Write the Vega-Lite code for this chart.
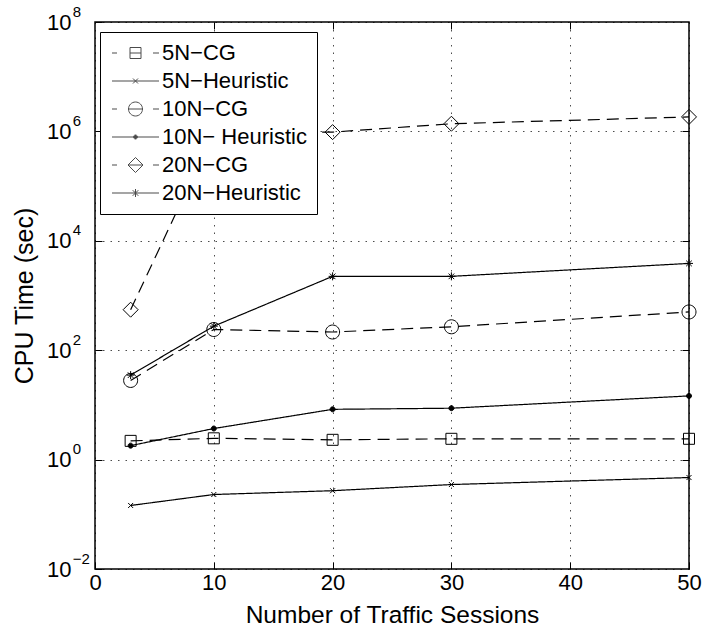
{
  "$schema": "https://vega.github.io/schema/vega-lite/v6.json",
  "autosize": {"type": "none"},
  "padding": {"left": 95, "top": 22, "right": 18, "bottom": 65},
  "width": 594,
  "height": 547,
  "background": "white",
  "config": {
    "font": "Liberation Sans",
    "view": {"stroke": "black", "strokeWidth": 1.5},
    "axis": {
      "labelFont": "Liberation Sans",
      "titleFont": "Liberation Sans",
      "labelColor": "black",
      "titleColor": "black",
      "tickColor": "black",
      "tickWidth": 1,
      "gridColor": "#000000",
      "gridDash": [1.5, 6],
      "gridOpacity": 0.7,
      "gridWidth": 1,
      "titleFontWeight": "normal",
      "labelFlush": false,
      "labelOverlap": false,
      "labelBound": false
    }
  },
  "data": {
    "values": [
      {"series": "5N−CG", "sessions": 3, "cpu": 2.2},
      {"series": "5N−CG", "sessions": 10, "cpu": 2.45},
      {"series": "5N−CG", "sessions": 20, "cpu": 2.3},
      {"series": "5N−CG", "sessions": 30, "cpu": 2.4},
      {"series": "5N−CG", "sessions": 50, "cpu": 2.4},
      {"series": "5N−Heuristic", "sessions": 3, "cpu": 0.145},
      {"series": "5N−Heuristic", "sessions": 10, "cpu": 0.23},
      {"series": "5N−Heuristic", "sessions": 20, "cpu": 0.27},
      {"series": "5N−Heuristic", "sessions": 30, "cpu": 0.35},
      {"series": "5N−Heuristic", "sessions": 50, "cpu": 0.47},
      {"series": "10N−CG", "sessions": 3, "cpu": 28},
      {"series": "10N−CG", "sessions": 10, "cpu": 239},
      {"series": "10N−CG", "sessions": 20, "cpu": 215},
      {"series": "10N−CG", "sessions": 30, "cpu": 268},
      {"series": "10N−CG", "sessions": 50, "cpu": 500},
      {"series": "10N− Heuristic", "sessions": 3, "cpu": 1.8},
      {"series": "10N− Heuristic", "sessions": 10, "cpu": 3.7},
      {"series": "10N− Heuristic", "sessions": 20, "cpu": 8.3},
      {"series": "10N− Heuristic", "sessions": 30, "cpu": 8.7},
      {"series": "10N− Heuristic", "sessions": 50, "cpu": 14.6},
      {"series": "20N−CG", "sessions": 3, "cpu": 550},
      {"series": "20N−CG", "sessions": 10, "cpu": 950000},
      {"series": "20N−CG", "sessions": 20, "cpu": 970000},
      {"series": "20N−CG", "sessions": 30, "cpu": 1380000},
      {"series": "20N−CG", "sessions": 50, "cpu": 1840000},
      {"series": "20N−Heuristic", "sessions": 3, "cpu": 35},
      {"series": "20N−Heuristic", "sessions": 10, "cpu": 275},
      {"series": "20N−Heuristic", "sessions": 20, "cpu": 2240},
      {"series": "20N−Heuristic", "sessions": 30, "cpu": 2240},
      {"series": "20N−Heuristic", "sessions": 50, "cpu": 3860}
    ]
  },
  "layer": [
    {
      "mark": {"type": "line", "color": "black", "strokeWidth": 1.2},
      "encoding": {
        "x": {
          "field": "sessions", "type": "quantitative",
          "scale": {"domain": [0, 50], "nice": false, "zero": false},
          "axis": {
            "orient": "bottom", "values": [0, 10, 20, 30, 40, 50],
            "grid": true, "domain": false, "tickSize": -7,
            "labelPadding": 10.5, "labelFontSize": 22,
            "title": "Number of Traffic Sessions", "titleFontSize": 24.5, "titlePadding": 10
          }
        },
        "y": {
          "field": "cpu", "type": "quantitative",
          "scale": {"type": "log", "domain": [0.01, 100000000], "nice": false},
          "axis": {
            "orient": "left", "values": [0.01, 1, 100, 10000, 1000000, 100000000],
            "labelExpr": "'10'", "grid": true, "domain": false, "tickSize": -7,
            "labelPadding": 31, "labelFontSize": 22,
            "title": "CPU Time (sec)", "titleFontSize": 25, "titlePadding": 9
          }
        },
        "strokeDash": {
          "field": "series", "type": "nominal",
          "scale": {
            "domain": ["5N−CG", "5N−Heuristic", "10N−CG", "10N− Heuristic", "20N−CG", "20N−Heuristic"],
            "range": [[12, 7], [1, 0], [12, 7], [1, 0], [12, 7], [1, 0]]
          },
          "legend": null
        }
      }
    },
    {
      "mark": {"type": "point", "filled": true, "stroke": "black", "strokeWidth": 1, "size": 4, "opacity": 1},
      "encoding": {
        "x": {
          "field": "sessions", "type": "quantitative",
          "scale": {"domain": [0, 50], "nice": false, "zero": false},
          "axis": {
            "orient": "top", "values": [10, 20, 30, 40], "labels": false,
            "tickSize": -7, "domain": false, "grid": false, "title": null
          }
        },
        "y": {
          "field": "cpu", "type": "quantitative",
          "scale": {"type": "log", "domain": [0.01, 100000000], "nice": false},
          "axis": {
            "orient": "left", "values": [0.01, 1, 100, 10000, 1000000, 100000000],
            "ticks": false, "domain": false, "grid": false, "title": null,
            "labelExpr": "format(round(log(datum.value) / LN10), 'd')",
            "labelAlign": "left", "labelPadding": 22.7, "labelOffset": -11, "labelFontSize": 15
          }
        },
        "shape": {
          "field": "series", "type": "nominal",
          "scale": {
            "domain": ["5N−CG", "5N−Heuristic", "10N−CG", "10N− Heuristic", "20N−CG", "20N−Heuristic"],
            "range": [
              "M-5.5,-5.5H5.5V5.5H-5.5Z",
              "M-2.5,-2.5L2.5,2.5M-2.5,2.5L2.5,-2.5",
              "M7,0A7,7,0,1,1,-7,0A7,7,0,1,1,7,0Z",
              "M2.5,0A2.5,2.5,0,1,1,-2.5,0A2.5,2.5,0,1,1,2.5,0Z",
              "M0,-7.5L7.5,0L0,7.5L-7.5,0Z",
              "M-4,0H4M0,-4V4M-2.8,-2.8L2.8,2.8M-2.8,2.8L2.8,-2.8"
            ]
          },
          "legend": null
        },
        "fill": {
          "condition": {"test": "datum.series === '10N− Heuristic'", "value": "black"},
          "value": "transparent"
        }
      }
    },
    {
      "transform": [{"filter": "false"}],
      "mark": {"type": "point", "filled": false, "color": "black", "strokeWidth": 1, "size": 4},
      "encoding": {
        "x": {
          "field": "sessions", "type": "quantitative",
          "scale": {"domain": [0, 50], "nice": false, "zero": false},
          "axis": null
        },
        "y": {
          "field": "cpu", "type": "quantitative",
          "scale": {"type": "log", "domain": [0.01, 100000000], "nice": false},
          "axis": {
            "orient": "right", "values": [1, 100, 10000, 1000000],
            "labels": false, "tickSize": -7, "domain": false, "grid": false, "title": null
          }
        },
        "shape": {
          "field": "series", "type": "nominal",
          "scale": {
            "domain": ["5N−CG", "5N−Heuristic", "10N−CG", "10N− Heuristic", "20N−CG", "20N−Heuristic"],
            "range": [
              "M-9,0H-4M9,0H20M32,0H38M9,-5.5H20V5.5H9Z",
              "M-9,0H38M12,-2.5L17,2.5M12,2.5L17,-2.5",
              "M-9,0H-4M32,0H38M7.5,0H21.5M21.5,0A7,7,0,1,1,7.5,0A7,7,0,1,1,21.5,0",
              "M-9,0H38M16.5,0A2,2,0,1,1,12.5,0A2,2,0,1,1,16.5,0M14.5,-2V2M13.5,-1V1M15.5,-1V1",
              "M-9,0H-4M32,0H38M7,0H22M14.5,-7.5L22,0L14.5,7.5L7,0Z",
              "M-9,0H38M14.5,-4V4M11.7,-2.8L17.3,2.8M11.7,2.8L17.3,-2.8"
            ]
          },
          "legend": {
            "title": null, "orient": "none", "legendX": 5, "legendY": 10, "direction": "vertical",
            "strokeColor": "black", "fillColor": "white", "padding": 10,
            "labelFont": "Liberation Sans", "labelFontSize": 22, "labelColor": "black",
            "labelOffset": 30, "labelLimit": 300, "rowPadding": 6,
            "symbolSize": 4, "symbolStrokeWidth": 1, "symbolStrokeColor": "black",
            "symbolFillColor": "transparent"
          }
        }
      }
    }
  ],
  "resolve": {
    "axis": {"x": "independent", "y": "independent"},
    "scale": {"shape": "independent"}
  }
}
